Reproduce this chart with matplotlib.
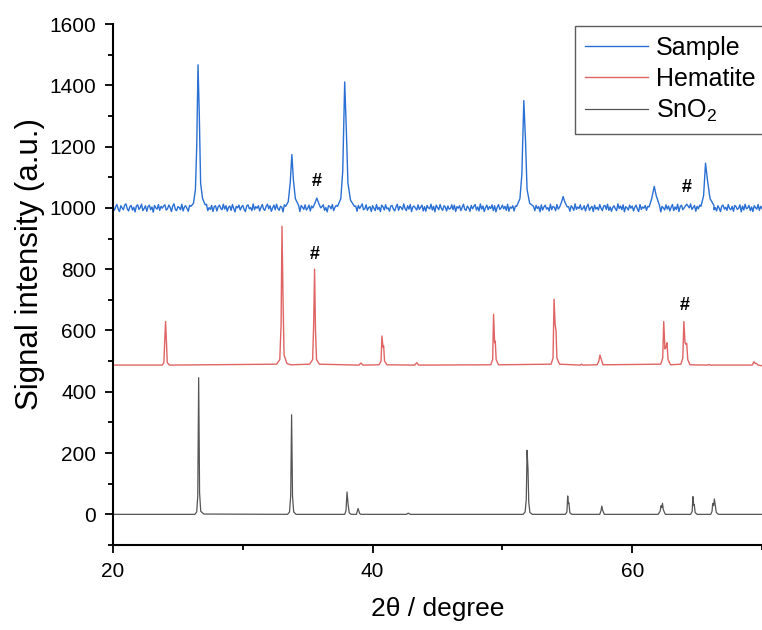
import numpy as np
import matplotlib
matplotlib.use('Agg')
import matplotlib.pyplot as plt
from matplotlib.ticker import MultipleLocator

plt.rcParams['font.family'] = ['Liberation Sans', 'DejaVu Sans']
plt.rcParams['mathtext.default'] = 'regular'

# Sample trace: background noise every 0.1 degree (20 .. 70), offsets from 1000
sample_noise = [
    5, -8, 3, 11, -4, -12, 7, 0, -6, 9, 13, -3, -10, 4, 8, -7, 2, -13, 6, 10,
    -5, 1, 12, -9, -2, 7, -11, 4, 9, -6, 3, -14, 8, 0, -4, 11, -8, 5, -1, 6,
    10, -7, -3, 9, 2, -12, 6, 13, -5, -9, 4, 1, -6, 12, -10, 3, 7, -2, -11, 8,
    -4, 11, 0, -8, 6, -13, 9, 2, -3, 10, -7, 5, 12, -9, 1, -5, 8, -12, 4, 7,
    -10, 3, 9, -1, -6, 12, -4, 7, -11, 2, 6, -8, 11, -2, -13, 5, 0, 9, -7, 3,
    8, -5, -12, 6, 10, -3, 1, -9, 13, -6, 4, -1, 7, -10, 2, 11, -4, -8, 5, 12,
    -3, 7, -11, 0, 9, -6, 12, -2, -8, 5, 3, -13, 10, -4, 6, -9, 1, 8, -7, 4,
    11, -2, -9, 5, -12, 8, 2, -5, 10, -7, -1, 9, -10, 6, 3, -4, 12, -11, 0, 7,
    -6, 4, 10, -8, 1, -13, 7, 5, -3, 11, -9, 2, 8, -5, -12, 6, -1, 9, -7, 3,
    12, -4, -7, 3, 9, -10, 0, 6, -11, 8, -2, 5, 13, -6, -3, 10, -8, 1, 4, -12,
    7, -1, -9, 11, -5, 2, -12, 9, 4, -7, 10, -3, 0, -11, 6, 8, -4, -10, 3, 12,
    -8, 5, 1, -6, 13, -2, -9, 7, -4, 11, -12, 3, 6, -1, -7, 10, -5, 2, 9, -10,
    4, -11, 8, 0, -3, 12, -7, 5, -13, 9, 1, -6, 11, -2, -8, 7, 3, -10, 6, -4,
    -2, 10, -6, 9, -12, 4, -1, 7, -9, 2, 12, -5, -8, 6, 0, -11, 8, -3, 5, 11,
    -7, 3, -10, 13, -4, 6, -12, 1, 9, -6, 4, -2, 10, -9, 7, -13, 2, 11, -5, 0,
    9, -3, 5, -8, 12, -11, 3, -1, 7, -10, 6, -4, -12, 8, 2, -6, 10, -7, 1, 4,
    -12, 6, 0, -5, 11, -9, 8, -2, 4, -13, 10, -7, 3, 9, -4, 1, -10, 12, -6, 5,
    2, -9, 11, -4, -1, 8, -12, 6, -6, 10, -3, 4, -11, 7, 1, -8, 13, -5, 3, -2,
    10, -6, -2, 7, -10, 4, 12, -8, 0, 5, -12, 9, -4, 2, -7, 11, -1, -9, 6, 8,
    -5, 12, -8, 3, -11, 1, 7, -3, -9, 13, -2, 6, -6, 10, -13, 4, 0, -7, 9, -1,
    6, -10, 2, 9, -4, -12, 11, -5, 3, -1, 8, -8, 5, -11, 12, -3, -6, 7, 1, -9,
    -1, 8, -13, 5, 0, -7, 10, -4, 6, -10, 2, 11, -9, 3, -5, 12, -12, 4, 9, -6,
    11, -7, 4, -2, -9, 13, -5, 1, 8, -11, 5, -3, 9, -13, 0, 7, -8, 10, -4, 2,
    -9, 3, 12, -6, 1, -10, 7, -1, -12, 6, 9, -4, 2, -8, 11, -2, -6, 5, -11, 8,
    4, -5, -1, 10, -13, 6, -7, 12, -3, 0, 8, -9, 3, -12, 7, 1, -4, 11, -8, 5,
    -2,
]

sample_peaks = [
    [(26.0, 1005), (26.2, 1015), (26.35, 1060), (26.45, 1200), (26.55, 1467),
     (26.65, 1300), (26.75, 1080), (26.9, 1030), (27.1, 1010)],
    [(33.3, 1005), (33.5, 1020), (33.65, 1080), (33.78, 1174), (33.9, 1090),
     (34.05, 1030), (34.3, 1008)],
    [(35.4, 1000), (35.55, 1015), (35.7, 1032), (35.85, 1015), (36.0, 1000)],
    [(37.3, 1005), (37.55, 1030), (37.7, 1120), (37.85, 1411), (37.98, 1250),
     (38.1, 1080), (38.3, 1025), (38.6, 1005)],
    [(51.1, 1005), (51.35, 1030), (51.5, 1110), (51.65, 1350), (51.78, 1220),
     (51.9, 1060), (52.1, 1015), (52.4, 1005)],
    [(54.4, 1002), (54.55, 1018), (54.68, 1037), (54.8, 1020), (55.0, 1003)],
    [(61.3, 1003), (61.5, 1030), (61.7, 1070), (61.85, 1040), (62.1, 1008)],
    [(64.0, 1000), (64.2, 1012), (64.4, 1000)],
    [(65.3, 1005), (65.5, 1040), (65.65, 1146), (65.8, 1090), (66.0, 1030),
     (66.3, 1008)],
]

hematite = [
    (20.0, 487),
    (23.8, 487), (23.92, 495), (23.98, 560), (24.05, 629), (24.12, 560), (24.18, 495), (24.35, 487),
    (32.6, 490), (32.85, 505), (32.95, 620), (33.02, 940), (33.1, 700), (33.18, 520), (33.4, 492), (33.7, 488),
    (35.15, 490), (35.38, 505), (35.46, 620), (35.53, 800), (35.6, 600), (35.68, 505), (35.9, 490),
    (38.95, 487), (39.1, 494), (39.25, 487),
    (40.5, 488), (40.65, 500), (40.72, 582), (40.8, 545), (40.85, 550), (40.92, 500), (41.1, 488),
    (43.25, 487), (43.4, 495), (43.55, 487),
    (49.1, 488), (49.25, 505), (49.32, 653), (49.4, 560), (49.45, 565), (49.52, 505), (49.7, 488),
    (53.75, 490), (53.9, 510), (53.98, 702), (54.06, 620), (54.13, 600), (54.2, 510), (54.4, 490),
    (56.0, 487), (56.1, 490), (56.2, 487),
    (57.3, 488), (57.43, 500), (57.52, 520), (57.62, 505), (57.75, 488),
    (62.2, 490), (62.35, 510), (62.43, 629), (62.52, 540), (62.6, 545), (62.68, 560), (62.76, 505), (62.95, 488),
    (63.75, 490), (63.9, 510), (63.98, 629), (64.07, 560), (64.13, 555), (64.2, 558), (64.28, 505), (64.45, 488),
    (65.8, 487), (65.9, 489), (66.0, 487),
    (69.25, 487), (69.38, 498), (69.48, 492), (69.56, 493), (69.7, 487),
    (70.0, 485),
]

sno2 = [
    (20.0, 0),
    (26.3, 0), (26.45, 8), (26.53, 60), (26.6, 446), (26.67, 70), (26.76, 10), (27.0, 1),
    (33.45, 0), (33.6, 8), (33.69, 60), (33.76, 325), (33.83, 60), (33.92, 8), (34.1, 0),
    (37.85, 0), (37.95, 12), (38.03, 73), (38.12, 30), (38.2, 5), (38.35, 0),
    (38.75, 0), (38.88, 19), (39.0, 3), (39.1, 0),
    (42.6, 0), (42.75, 4), (42.9, 0),
    (51.6, 0), (51.75, 8), (51.84, 50), (51.9, 209), (51.97, 150), (52.03, 40), (52.12, 6), (52.3, 0),
    (54.85, 0), (54.97, 8), (55.03, 60), (55.08, 35), (55.12, 38), (55.2, 5), (55.35, 0),
    (57.5, 0), (57.6, 12), (57.66, 27), (57.72, 14), (57.85, 0),
    (62.0, 0), (62.15, 10), (62.22, 28), (62.28, 22), (62.33, 36), (62.4, 15), (62.55, 0),
    (64.5, 0), (64.62, 10), (64.68, 58), (64.74, 30), (64.78, 32), (64.85, 6), (65.0, 0),
    (66.05, 0), (66.15, 10), (66.2, 35), (66.27, 28), (66.33, 50), (66.4, 30), (66.48, 6), (66.65, 0),
    (70.0, 0),
]

# '#' reflections marked on the plot
hash_marks = [(35.7, 1058), (64.2, 1040), (35.5, 820), (64.05, 655)]

# build the sample trace: background points outside peaks + peak points
bg_x = np.linspace(20, 70, len(sample_noise))
bg_y = 1000 + np.array(sample_noise, float)
keep = np.ones(len(bg_x), bool)
px, py = [], []
for pk in sample_peaks:
    xs, ys = zip(*pk)
    keep &= ~((bg_x >= xs[0]) & (bg_x <= xs[-1]))
    px += xs
    py += ys
sx = np.concatenate([bg_x[keep], px])
sy = np.concatenate([bg_y[keep], py])
order = np.argsort(sx)
sx, sy = sx[order], sy[order]

hx, hy = zip(*hematite)
kx, ky = zip(*sno2)

fig = plt.figure(figsize=(7.62, 6.30), dpi=100)
ax = fig.add_axes([113/762, 85/630, 649/762, 521/630])

ax.plot(sx, sy, color='#2a6fd3', lw=1.0, label='Sample')
ax.plot(hx, hy, color='#e06464', lw=1.0, label='Hematite')
ax.plot(kx, ky, color='#555555', lw=0.9, label='SnO$_2$')

for x, y in hash_marks:
    ax.text(x, y, '#', ha='center', va='bottom', fontsize=13, fontweight='bold')

ax.set_xlim(20, 70)
ax.set_ylim(-100, 1600)
ax.xaxis.set_major_locator(MultipleLocator(20))
ax.xaxis.set_minor_locator(MultipleLocator(10))
ax.yaxis.set_major_locator(MultipleLocator(200))
ax.yaxis.set_minor_locator(MultipleLocator(100))
ax.tick_params(which='major', direction='out', length=6, width=1.3, labelsize=15, pad=6)
ax.tick_params(which='minor', direction='out', length=3.5, width=1.3)
ax.spines['top'].set_visible(False)
ax.spines['right'].set_visible(False)
for s in ('left', 'bottom'):
    ax.spines[s].set_linewidth(1.5)

ax.set_xlabel('2θ / degree', fontsize=19, labelpad=12)
ax.set_ylabel('Signal intensity (a.u.)', fontsize=22.5, labelpad=4)
ax.yaxis.set_label_coords(-0.105, 0.54)

leg = ax.legend(loc='upper right', bbox_to_anchor=(1.006, 0.997), fontsize=18,
                frameon=True, fancybox=False, edgecolor='#333333',
                handlelength=2.5, handletextpad=0.35, labelspacing=0.28,
                borderaxespad=0.0, borderpad=0.4)
leg.get_frame().set_linewidth(1.0)

fig.savefig('out.png', dpi=100)
